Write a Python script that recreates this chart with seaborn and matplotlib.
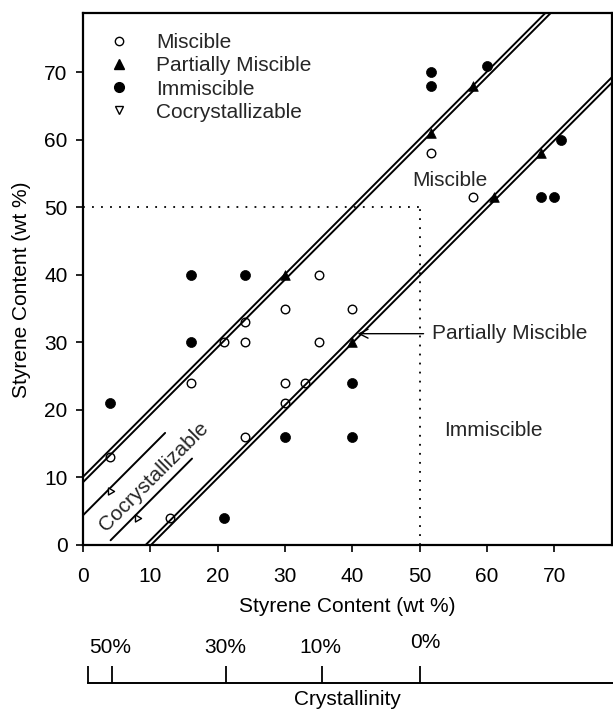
import matplotlib
matplotlib.use("Agg")
import matplotlib.pyplot as plt
import matplotlib.transforms as mtransforms
from matplotlib.lines import Line2D
import pandas as pd
import seaborn as sns

# ---------------- data ----------------
miscible_x = [4, 16, 21, 24, 24, 24, 13, 30, 30, 30, 33, 35, 35, 40, 51.7, 58]
miscible_y = [13, 24, 30, 30, 33, 16, 4, 35, 24, 21, 24, 40, 30, 35, 58, 51.6]

partial_x = [30, 40, 51.7, 58, 61, 68]
partial_y = [40, 30, 61, 68, 51.6, 58]

immiscible_x = [4, 16, 16, 24, 21, 30, 40, 40, 51.7, 51.7, 60, 68, 70, 71]
immiscible_y = [21, 40, 30, 40, 4, 16, 16, 24, 70, 68, 71, 51.6, 51.6, 60]

cocryst_x = [4, 8]
cocryst_y = [8, 4]

# boundary lines (slope 1): y = x + intercept
boundary_intercepts = [10.1, 9.3, -9.3, -10.1]
# short cocrystallizable guide lines: (x start, x end, intercept)
cocryst_line_start = [0, 4.1]
cocryst_line_end = [12.2, 16.2]
cocryst_line_intercept = [4.4, -3.4]

x_ticks = [0, 10, 20, 30, 40, 50, 60, 70]
y_ticks = [0, 10, 20, 30, 40, 50, 60, 70]

crystallinity_pos = [4.3, 21.3, 35.5, 50]
crystallinity_labels = ["50%", "30%", "10%", "0%"]
crystallinity_start = 0.7

region_limit = 50

legend_labels = ["Miscible", "Partially Miscible", "Immiscible", "Cocrystallizable"]

# ---------------- style ----------------
sns.set_theme(style="white")
plt.rcParams["font.family"] = ["Liberation Sans", "DejaVu Sans"]
FS = 15

fig = plt.figure(figsize=(6.13, 7.12), dpi=100)
ax = fig.add_axes([83 / 613, 167 / 712, 529 / 613, 532 / 712])

df_m = pd.DataFrame({"x": miscible_x, "y": miscible_y})
df_p = pd.DataFrame({"x": partial_x, "y": partial_y})
df_i = pd.DataFrame({"x": immiscible_x, "y": immiscible_y})
df_c = pd.DataFrame({"x": cocryst_x, "y": cocryst_y})

sns.scatterplot(data=df_m, x="x", y="y", ax=ax, marker="o", s=38,
                facecolor="white", edgecolor="black", linewidth=1.0, zorder=2)
sns.scatterplot(data=df_p, x="x", y="y", ax=ax, marker="^", s=48,
                color="black", edgecolor="black", linewidth=0.5, zorder=2)
sns.scatterplot(data=df_i, x="x", y="y", ax=ax, marker="o", s=52,
                color="black", edgecolor="black", linewidth=0.5, zorder=2)
sns.scatterplot(data=df_c, x="x", y="y", ax=ax, marker=(3, 0, -90), s=34,
                facecolor="white", edgecolor="black", linewidth=1.0, zorder=4)

for c in boundary_intercepts:
    ax.axline((0, c), slope=1, color="black", lw=1.4, zorder=3)

for xs, xe, c in zip(cocryst_line_start, cocryst_line_end, cocryst_line_intercept):
    ax.plot([xs, xe], [xs + c, xe + c], color="black", lw=1.4, zorder=3)

# dotted region box
ax.plot([0, region_limit], [region_limit, region_limit], color="black",
        lw=1.3, linestyle=(0, (1, 4)), zorder=1)
ax.plot([region_limit, region_limit], [0, region_limit], color="black",
        lw=1.3, linestyle=(0, (1, 4)), zorder=1)

# annotations
ax.annotate("", xy=(40.8, 31.3), xytext=(50.6, 31.3),
            arrowprops=dict(arrowstyle="->", lw=1.0, color="black",
                            mutation_scale=16, shrinkA=0, shrinkB=0))
ax.text(51.8, 31.4, "Partially Miscible", fontsize=FS, ha="left", va="center")
ax.text(54.5, 54.0, "Miscible", fontsize=FS, ha="center", va="center")
ax.text(61.0, 17.0, "Immiscible", fontsize=FS, ha="center", va="center")
ax.text(10.6, 10.1, "Cocrystallizable", fontsize=FS, ha="center", va="center",
        rotation=45, rotation_mode="anchor")

ax.set_xlim(0, 78.6)
ax.set_ylim(0, 78.8)
ax.set_xticks(x_ticks)
ax.set_yticks(y_ticks)
ax.tick_params(axis="both", which="both", bottom=True, left=True, top=False,
               right=False, direction="out", length=5, width=1.2,
               labelsize=FS, color="black", labelcolor="black")
ax.tick_params(axis="x", pad=11)
ax.tick_params(axis="y", pad=6)
for sp in ax.spines.values():
    sp.set_color("black")
    sp.set_linewidth(1.6)
ax.set_xlabel("Styrene Content (wt %)", fontsize=FS, labelpad=7.5, color="black")
ax.set_ylabel("Styrene Content (wt %)", fontsize=FS, color="black")
ax.yaxis.set_label_coords(-0.098, 0.48)

handles = [
    Line2D([], [], linestyle="none", marker="o", markersize=6,
           markerfacecolor="white", markeredgecolor="black", markeredgewidth=1.0),
    Line2D([], [], linestyle="none", marker="^", markersize=7,
           markerfacecolor="black", markeredgecolor="black"),
    Line2D([], [], linestyle="none", marker="o", markersize=7,
           markerfacecolor="black", markeredgecolor="black"),
    Line2D([], [], linestyle="none", marker="v", markersize=6,
           markerfacecolor="white", markeredgecolor="black", markeredgewidth=1.0),
]
ax.legend(handles, legend_labels, loc="upper left", bbox_to_anchor=(0.048, 0.962),
          frameon=False, fontsize=FS, handlelength=1.0, handletextpad=1.3,
          labelspacing=0.2, borderaxespad=0, borderpad=0)

# ---------------- crystallinity axis ----------------
ax2 = fig.add_axes([83 / 613, 29 / 712, 529 / 613, 0.05])
ax2.set_xlim(ax.get_xlim())
ax2.set_ylim(0, 1)
ax2.patch.set_alpha(0)
for side in ["left", "right", "top"]:
    ax2.spines[side].set_visible(False)
ax2.spines["bottom"].set_color("black")
ax2.spines["bottom"].set_linewidth(1.4)
ax2.spines["bottom"].set_bounds(crystallinity_start, 79)
ax2.set_yticks([])
ax2.set_xticks([crystallinity_start] + crystallinity_pos)
ax2.set_xticklabels([])
ax2.tick_params(axis="x", bottom=True, direction="in", length=12, width=1.3,
                color="black")
ax2.set_xlabel("Crystallinity", fontsize=FS, labelpad=1.5, color="black")

trans = mtransforms.blended_transform_factory(ax2.transData, fig.transFigure)
label_dx = [-0.3, -0.2, -0.3, 0.8]
label_y = [0.091, 0.091, 0.091, 0.097]
for xp, lab, dx, yy in zip(crystallinity_pos, crystallinity_labels, label_dx, label_y):
    fig.text(xp + dx, yy, lab, transform=trans, fontsize=FS, ha="center",
             va="center", color="black")

fig.savefig("out.png", dpi=100)
